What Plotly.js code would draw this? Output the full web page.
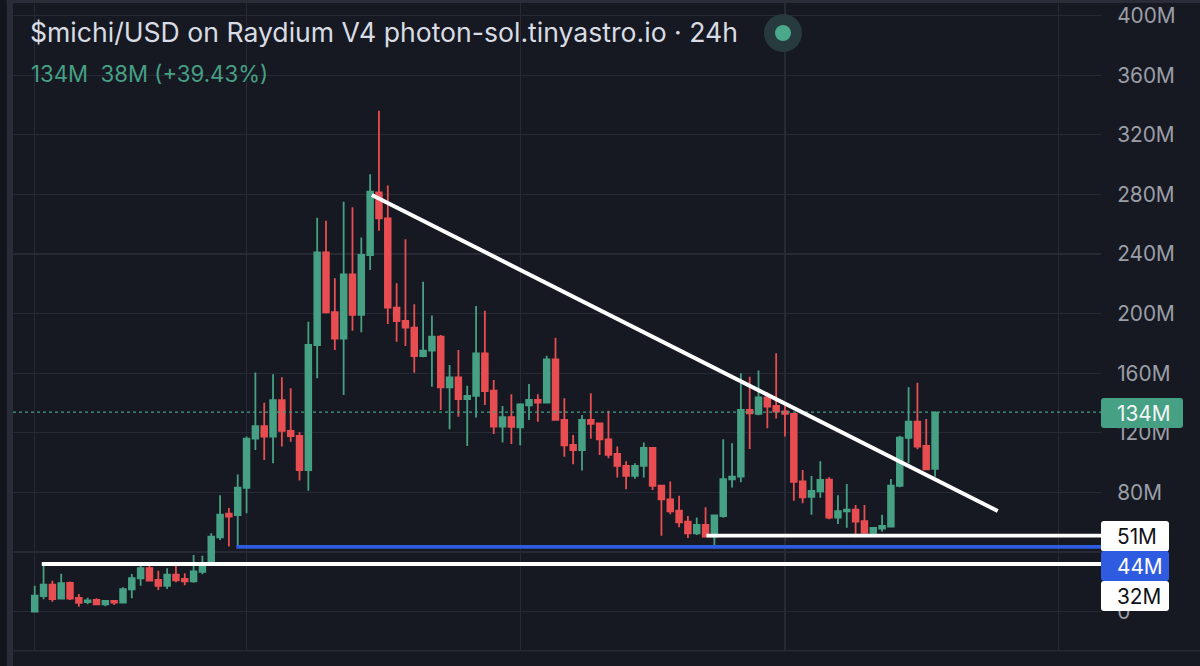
<!DOCTYPE html>
<html><head><meta charset="utf-8">
<script src="https://cdn.plot.ly/plotly-3.0.1.min.js"></script>
<style>html,body{margin:0;padding:0;background:#161922;overflow:hidden}#c{width:1200px;height:666px}</style>
</head><body><div id="c"></div><script>
const openM=[0,10.5,18.2,8.8,19.3,9.2,6.5,7.9,5,7.2,6.1,15,22.4,29.3,21.3,17.3,24.9,22,20.4,26.7,32.9,49.9,65.8,64.9,
83.2,116.1,124.6,117.5,142,121.3,117.9,95.1,179,241.2,201.1,183.2,226.4,199.3,239.4,281.4,264,204,195.1,190.6,171.6,175.2,184.6,150.6,157.3,142.7,144.8,173.4,
148.4,124.2,130.5,123.7,138.5,142.1,140.3,169.4,128.7,111.9,108.5,128.7,126.4,115.7,105.9,97.8,91.1,97.8,109.9,84.6,75.4,67.8,60.4,52.6,58.2,50.4,64.2,88.9,90.6,
135.4,132.7,143.9,138.1,134.5,132.7,87.5,77,80.8,88.6,63.1,67.4,68.5,60.7,53,55.7,57.1,84.4,116.6,127.5,111.2,95.8];
const highM=[17.5,32,20.8,25.5,20.2,11.9,9.4,9,7.2,7.9,16.4,25.3,32.5,31.8,27.5,29.1,30.9,25.8,38,37.6,52.6,78.1,69.6,92,
117.5,160.6,140.3,159.3,157.3,149.9,120.4,194.6,264.4,262.4,223.7,275.2,271.4,251.2,293.5,336.2,286.1,220.4,249.9,206.3,221.5,198.7,185.7,165.6,175.6,151.7,205.2,202,
155.5,138.1,145.9,139.9,152.8,145.9,171.8,183.9,143.2,118.6,132,146.6,126.4,134.9,110.8,100.9,99.6,113.5,110.3,84.6,87.3,77.9,64.2,63.3,70.1,64.9,115.7,113,
160,157.7,161.8,147.2,173.4,139.9,132.7,95.1,91.1,100.9,90.2,78.1,85.7,71.6,71.6,56.4,65.1,89.1,118.1,150.6,153.7,129.3,134.5];
const lowM=[0,8.3,6.7,8.3,7.9,3.4,5,4.3,3.6,4.5,5.9,9,17.5,20.6,14.6,15.2,19.7,17.7,19.5,25.1,32.5,48.1,43.7,43.7,
66,108.5,101.8,99.6,110.8,114.1,88,81.2,156.6,200.2,175.6,145.4,188.6,187.5,229.3,255.7,193.1,181.2,178.3,160.4,170.7,151,135.4,122.4,130.9,111.2,130.4,138.7,
119.3,113.5,112.6,111.7,128.7,127.5,140.3,128.2,104,98.9,94.7,116.1,105.2,102.9,90,82.1,89.3,90,81.7,51,65.4,56.6,49.5,51.5,49.9,42.5,63.1,83.3,
86.8,109.2,131.8,123.1,129.6,117.5,74.5,72.7,65.1,76.5,62,58.9,56.4,49.9,53,51.3,53.7,57.1,83.5,99.6,109,95.1,90.6];
const closeM=[10.8,18.2,8.5,19.1,8.8,5.9,7.6,5,7.2,6.1,15.2,22.6,29.3,20.8,17.3,24.9,21.1,20.4,27.1,32.5,50.4,65.1,63.8,83.3,
116.1,124.6,117.5,142,121.3,117.9,95.1,179,241.2,200.9,183.2,226.4,199.3,239.4,281.9,264,204,195.1,190.6,171.6,175.2,184.6,150.6,157.3,142.7,144.8,173.4,148.1,
124.2,130.5,124,139.2,142.1,140.3,169.4,128.7,111.7,108.5,128.7,126,115.7,105.2,97.8,91.1,97.8,109.9,84.4,75.4,67.4,60,52.6,58.2,50.4,64.7,88.9,90.6,135.4,
133.1,143.9,137.6,134.3,132.7,87.1,76.8,81,88.4,63.1,67.4,68.5,60.4,53,56.2,57.5,84.6,116.8,127.5,110.8,95.6,133.6];
const dayIndex=openM.map((_,i)=>i);
const priceTicks=[0,40,80,120,160,200,240,280,320,360,400];
const priceTickLabels=['0','','80M','120M','160M','200M','240M','280M','320M','360M','400M'];
const monthGrid=[0,24,55,85,116];
const levelTags=[['51M',51],['44M',44],['32M',32]];

const GREEN='#46a084',RED='#e84d51',BG='#161922',GRID='#272a34',BLUE='#2f5be0';
const W=1200,H=666,L=13,R=1101,T=3,B=650;
const FONT='Inter, "Liberation Sans", sans-serif';
const px=x=>(x-L)/(R-L), py=y=>(B-y)/(B-T);
function box(x0,y0,x1,y1,r,color){
  const a=[px(x0),py(y0),px(x1),py(y1)], rx=r/(R-L), ry=r/(B-T);
  return {type:'path',xref:'paper',yref:'paper',layer:'above',fillcolor:color,line:{width:0},
    path:`M${a[0]+rx},${a[1]} L${a[2]-rx},${a[1]} Q${a[2]},${a[1]} ${a[2]},${a[1]-ry} L${a[2]},${a[3]+ry} Q${a[2]},${a[3]} ${a[2]-rx},${a[3]} L${a[0]+rx},${a[3]} Q${a[0]},${a[3]} ${a[0]},${a[3]+ry} L${a[0]},${a[1]-ry} Q${a[0]},${a[1]} ${a[0]+rx},${a[1]} Z`};
}
function rect(x0,y0,x1,y1,color,layer){return {type:'rect',xref:'paper',yref:'paper',x0:px(x0),x1:px(x1),y0:py(y0),y1:py(y1),fillcolor:color,line:{width:0},layer:layer||'below'};}
function circ(cx,cy,r,color){return {type:'circle',xref:'paper',yref:'paper',x0:px(cx-r),x1:px(cx+r),y0:py(cy+r),y1:py(cy-r),fillcolor:color,line:{width:0},layer:'above'};}
function text(t,x,y,size,color,anchor){return {text:t,xref:'paper',yref:'paper',x:px(x),y:py(y),xanchor:anchor||'left',yanchor:'middle',showarrow:false,font:{size:size,color:color,family:FONT}};}
const line=(x0,y0,x1,y1,c,w,dash)=>({type:'line',xref:'x',yref:'y',x0,y0,x1,y1,line:{color:c,width:w,dash:dash||'solid'},layer:'above'});

const shapes=[
  rect(0,0,1200,3,'#2a2d37'),rect(6.5,0,13,666,'#2a2d37'),rect(0,0,6.5,666,'#13151c'),rect(13,650,1200,651.5,'#272a34'),
  line(-2.46,134,120.8,134,GREEN,1.2,'dot'),
  line(38.2,279.7,109.1,67.6,'#ffffff',4),
  line(0.8,32,120.8,32,'#ffffff',3.8),
  line(22.85,43.5,120.8,43.5,BLUE,3.8),
  line(76.1,51,120.8,51,'#ffffff',3.8),
  box(1101,398,1183,428,3,GREEN),
  box(1101,521,1169,551.5,3,'#ffffff'),
  box(1101,551,1169,581,3,BLUE),
  box(1101,581,1169,611,3,'#ffffff'),
  circ(783,33,19,'#273a3d'),circ(783,33,8,'#4aa98b')
];
const annotations=[
  text('134M  38M (+39.43%)',29,73,22.2,GREEN),
  text('134M',1115,413,20.8,'#f2f5f4'),
  text(levelTags[0][0],1115,536,20.8,'#101218'),
  text(levelTags[1][0],1115,566,20.8,'#ffffff'),
  text(levelTags[2][0],1115,596,20.8,'#101218')
];
Plotly.newPlot('c',[{
  type:'candlestick',x:dayIndex,open:openM,high:highM,low:lowM,close:closeM,whiskerwidth:0,
  increasing:{line:{color:GREEN,width:1.8},fillcolor:GREEN},
  decreasing:{line:{color:RED,width:1.8},fillcolor:RED},hoverinfo:'skip'
}],{
  width:W,height:H,margin:{l:L,r:W-R,t:T,b:H-B,pad:0},showlegend:false,
  paper_bgcolor:BG,plot_bgcolor:BG,boxgap:0.08,
  title:{text:'$michi/USD on Raydium V4 photon-sol.tinyastro.io · 24h',x:30/W,xanchor:'left',y:1-33/H,yanchor:'middle',font:{size:26.6,color:'#d9dce3',family:FONT}},
  xaxis:{type:'linear',range:[-2.46,120.8],rangeslider:{visible:false},tickvals:monthGrid,ticktext:monthGrid.map(()=>''),ticks:'',showgrid:true,gridcolor:GRID,gridwidth:1.2,zeroline:false,showline:false,fixedrange:true},
  yaxis:{side:'right',range:[-25.7,408.5],tickvals:priceTicks,ticktext:priceTickLabels,ticks:'outside',ticklen:11,tickcolor:'rgba(0,0,0,0)',tickfont:{size:20.8,color:'#9b9ea7',family:FONT},showgrid:true,gridcolor:GRID,gridwidth:1.2,zeroline:false,showline:false,fixedrange:true},
  shapes,annotations
},{staticPlot:true,displayModeBar:false});
</script></body></html>
